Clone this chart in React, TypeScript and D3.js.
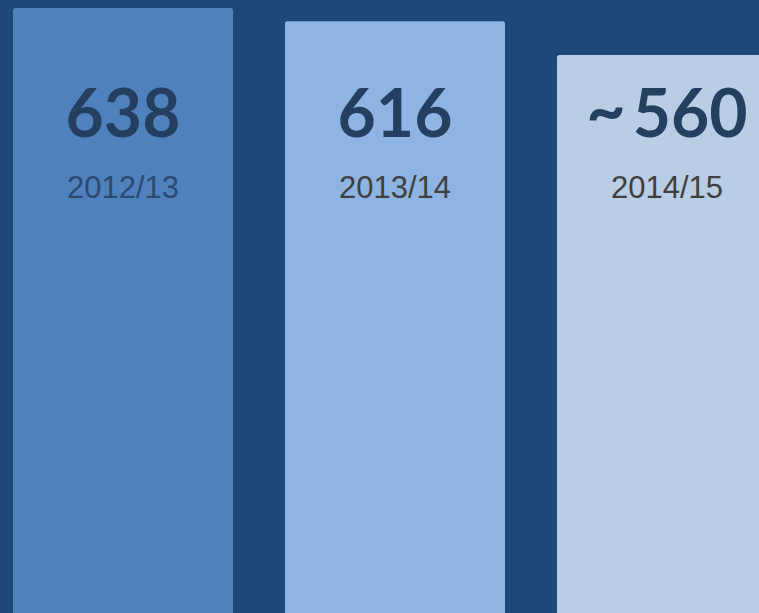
import React from "react";
import * as d3 from "d3";

const categories = ["2012/13", "2013/14", "2014/15"];
const values = [638, 616, 560];
const valuePrefixes = ["", "", "~"];
const barColors = ["#4f81bd", "#8eb4e3", "#b9cde5"];
const labelColors = ["#2c4a70", "#404040", "#404040"];

const W = 759;
const H = 613;

export default function App() {
  const x = d3
    .scaleBand<string>()
    .domain(categories)
    .range([13, 777])
    .paddingInner(52 / 272)
    .paddingOuter(0);
  const y = d3.scaleLinear().domain([560, 638]).range([55, 8]);
  const bw = x.bandwidth();

  return (
    <div style={{ position: "fixed", left: 0, top: 0, width: W, height: H }}>
      <svg width={W} height={H} style={{ display: "block" }}>
        <rect x={0} y={0} width={W} height={H} fill="#1f4778" />
        {categories.map((c, i) => {
          const x0 = x(c)!;
          const cx = x0 + bw / 2;
          return (
            <g key={c}>
              <rect
                x={x0}
                y={y(values[i])}
                width={bw}
                height={H - y(values[i]) + 10}
                rx={2.5}
                fill={barColors[i]}
              />
              <text
                x={cx}
                y={136.5}
                textAnchor="middle"
                fontFamily="Lato, 'Open Sans', sans-serif"
                fontWeight="bold"
                fontSize={66}
                fill="#243f60"
              >
                {valuePrefixes[i] ? (
                  <tspan fontSize={68} dy={-3}>{valuePrefixes[i]}</tspan>
                ) : null}
                <tspan dx={valuePrefixes[i] ? 7 : 0} dy={valuePrefixes[i] ? 3 : 0}>
                  {d3.format("d")(values[i])}
                </tspan>
              </text>
              <text
                x={cx}
                y={198}
                textAnchor="middle"
                fontFamily="'Liberation Sans', Arial, sans-serif"
                fontSize={31}
                fill={labelColors[i]}
              >
                {c}
              </text>
            </g>
          );
        })}
      </svg>
    </div>
  );
}
